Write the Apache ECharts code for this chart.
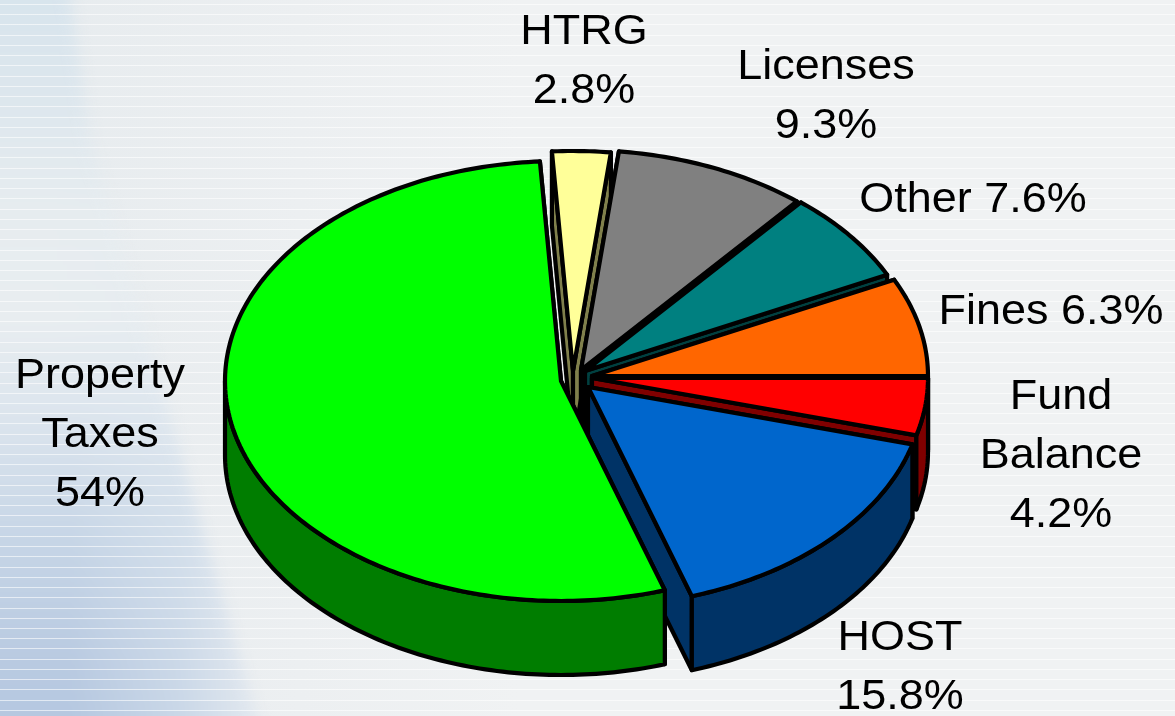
<!DOCTYPE html>
<html>
<head>
<meta charset="utf-8">
<style>
html,body{margin:0;padding:0;width:1175px;height:716px;overflow:hidden;background:linear-gradient(to right,#e6ebee 0,#eceff1 300px,#f0f2f3 520px,#f0f2f3 100%)}
.layer{position:absolute;left:0;top:0;width:1175px;height:716px}
#glowWrap{filter:blur(7px)}
#glow{position:absolute;left:-20px;top:-20px;width:1195px;height:756px;
 clip-path:polygon(0 0,88px 0,110px 160px,282px 756px,0 756px);
 background:
  linear-gradient(to right,rgba(226,234,240,0) 0,rgba(226,234,240,0) 90px,rgba(226,234,240,.45) 200px,rgba(238,241,243,.8) 280px),
  linear-gradient(to bottom,#d7e4ed 0,#dce6ed 110px,#e6ecef 230px,#e8edf0 340px,#dbe4ed 440px,#c6d5e6 560px,#b9cae1 680px,#b4c7e0 756px);}
#lines{background:repeating-linear-gradient(to bottom,rgba(255,255,255,0) 0,rgba(255,255,255,0) 4px,rgba(255,255,255,.6) 4px,rgba(255,255,255,.6) 5px,rgba(255,255,255,0) 5px,rgba(255,255,255,0) 10.23px)}
#main{width:1175px;height:716px}
</style>
</head>
<body>
<div class="layer" id="glowWrap"><div id="glow"></div></div>
<div class="layer" id="lines"></div>
<div class="layer" id="main"></div>
<script src="https://cdn.jsdelivr.net/npm/echarts@6/dist/echarts.min.js"></script>
<script>
// Data, clockwise from the 3 o'clock position
var categories = ['Fund\nBalance', 'HOST', 'Property\nTaxes', 'HTRG', 'Licenses', 'Other', 'Fines'];
var shares = [4.2, 15.8, 54, 2.8, 9.3, 7.6, 6.3];
var shareLabels = ['4.2%', '15.8%', '54%', '2.8%', '9.3%', '7.6%', '6.3%'];

// Styling and layout of the exploded 3D pie
var topColors  = ['#ff0000', '#0066cc', '#00ff00', '#ffff99', '#808080', '#008080', '#ff6600'];
var wallColors = ['#800000', '#003366', '#007d00', '#80804c', '#404040', '#004040', '#803300'];
var centers    = [[592,378], [588,387], [561,381], [573,371], [581,370], [585,371], [592,376]];
var drawRank   = [4, 5, 6, 0, 1, 2, 3];
var labelSpots = [[1061,397], [900,638], [100,376], [584,32], [826,67], [973,200], [1051,312]];
var labelInline = [false, false, false, false, false, true, true];
var RX = 336, RY = 220, DEPTH = 74, START = 90, STROKE = 4.2, LINE = 59;

function warp(t) { // slight foreshortening of the original's perspective
  return (t > 400 && t < 450) ? t - 3.3 * Math.sin(Math.PI * (t - 400) / 50) : t;
}
function rim(c, t, dy) {
  var a = warp(t) * Math.PI / 180;
  return [c[0] + RX * Math.sin(a), c[1] - RY * Math.cos(a) + (dy || 0)];
}
var total = shares.reduce(function (a, b) { return a + b; }, 0);
var angles = [START];
shares.forEach(function (v, i) { angles.push(angles[i] + v / total * 360); });

function arc(c, a, b, dy) {
  var pts = [], n = Math.max(2, Math.ceil(b - a));
  for (var k = 0; k <= n; k++) pts.push(rim(c, a + (b - a) * k / n, dy));
  return pts;
}
function poly(points, fill, z) {
  return { type: 'polygon', z2: z, shape: { points: points },
    style: { fill: fill, stroke: '#000', lineWidth: STROKE, lineJoin: 'round' } };
}

function renderSlice(params, api) {
  var i = params.dataIndex, c = centers[i], a = angles[i], b = angles[i + 1];
  var base = drawRank[i] * 10, kids = [];
  var apex = [c[0], c[1]], apexLow = [c[0], c[1] + DEPTH];
  kids.push(poly([apex, rim(c, a), rim(c, a, DEPTH), apexLow], wallColors[i], base));
  kids.push(poly([apex, rim(c, b), rim(c, b, DEPTH), apexLow], wallColors[i], base + 1));
  var fa = Math.max(a, 90), fb = Math.min(b, 270);
  if (fb > fa) {
    kids.push(poly(arc(c, fa, fb, 0).concat(arc(c, fa, fb, DEPTH).reverse()), wallColors[i], base + 2));
  }
  kids.push(poly([apex].concat(arc(c, a, b, 0)), topColors[i], base + 3));
  var spot = labelSpots[i];
  var txt = labelInline[i] ? categories[i] + ' ' + shareLabels[i] : categories[i] + '\n' + shareLabels[i];
  txt.split('\n').forEach(function (line, k) {
    kids.push({ type: 'text', z2: 200, x: spot[0], y: spot[1] + k * LINE, scaleX: 1.07, scaleY: 1,
      style: { text: line, fill: '#000', font: '42px "Liberation Sans", Arial, sans-serif',
        align: 'center', verticalAlign: 'middle' } });
  });
  return { type: 'group', children: kids };
}

var chart = echarts.init(document.getElementById('main'), null, { renderer: 'canvas' });
chart.setOption({
  animation: false,
  backgroundColor: 'transparent',
  series: [{
    type: 'custom',
    coordinateSystem: 'none',
    silent: true,
    renderItem: renderSlice,
    data: shares.map(function (v, i) { return { name: categories[i], value: v }; })
  }]
});
</script>
</body>
</html>
